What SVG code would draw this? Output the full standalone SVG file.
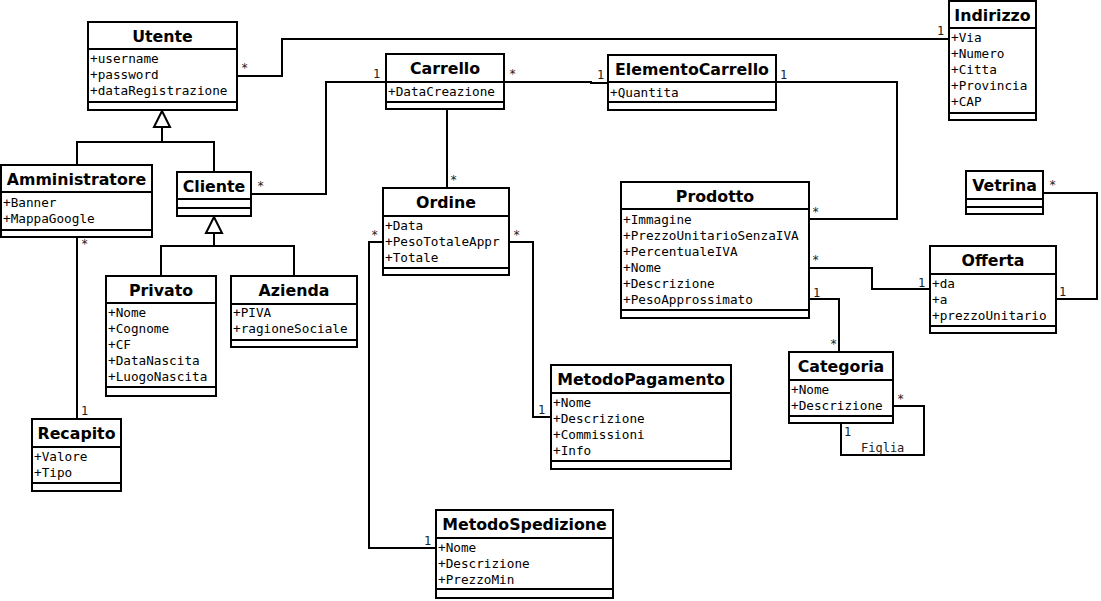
<svg xmlns="http://www.w3.org/2000/svg" width="1101" height="601" viewBox="0 0 1101 601">
<style>
.box{fill:#fff;stroke:#000;stroke-width:2}
.sep{stroke:#000;stroke-width:2}
.t{font-family:"DejaVu Sans",sans-serif;font-weight:bold;font-size:15.8px;text-anchor:middle;fill:#000}
.a{font-family:"DejaVu Sans Mono",monospace;font-size:12.7px;fill:#000}
.m{font-family:"DejaVu Sans Mono",monospace;font-size:12px;fill:#222}
.c{fill:none;stroke:#000;stroke-width:2}
.g{fill:#fff;stroke:#000;stroke-width:2}
</style>
<rect width="1101" height="601" fill="#fff"/>
<g id="connectors">
<polyline class="c" points="237,76 282,76 282,39 949,39"/>
<polyline class="c" points="251,194 326,194 326,82 386,82"/>
<polyline class="c" points="504,82 591,82 591,83 608,83"/>
<line class="c" x1="447" y1="109" x2="447" y2="188"/>
<polyline class="c" points="383,242 369,242 369,548 436,548"/>
<polyline class="c" points="509,242 533,242 533,417 551,417"/>
<polyline class="c" points="776,82 897,82 897,219 809,219"/>
<polyline class="c" points="809,268 872,268 872,289 930,289"/>
<polyline class="c" points="809,299 839,299 839,352"/>
<polyline class="c" points="1043,193 1097,193 1097,299 1056,299"/>
<polyline class="c" points="893,406 924,406 924,455 841,455 841,423"/>
<line class="c" x1="77" y1="237" x2="77" y2="419"/>
<polyline class="c" points="162,127 162,142"/>
<polyline class="c" points="77,165 77,142 214,142 214,172"/>
<polygon class="g" points="162,111 154,127 170,127"/>
<polyline class="c" points="214,233 214,246"/>
<polyline class="c" points="161,276 161,246 294,246 294,276"/>
<polygon class="g" points="214,217 206,233 222,233"/>
<text class="m" x="241" y="72">*</text>
<text class="m" x="937" y="35">1</text>
<text class="m" x="257" y="190">*</text>
<text class="m" x="373" y="78">1</text>
<text class="m" x="509" y="78">*</text>
<text class="m" x="597" y="79">1</text>
<text class="m" x="448" y="106">1</text>
<text class="m" x="450" y="184">*</text>
<text class="m" x="371" y="239">*</text>
<text class="m" x="424" y="545">1</text>
<text class="m" x="513" y="239">*</text>
<text class="m" x="538" y="414">1</text>
<text class="m" x="780" y="79">1</text>
<text class="m" x="812" y="216">*</text>
<text class="m" x="812" y="264">*</text>
<text class="m" x="918" y="287">1</text>
<text class="m" x="813" y="297">1</text>
<text class="m" x="830" y="348">*</text>
<text class="m" x="1049" y="189">*</text>
<text class="m" x="1059" y="296">1</text>
<text class="m" x="897" y="403">*</text>
<text class="m" x="844" y="436">1</text>
<text class="m" x="861" y="452">Figlia</text>
<text class="m" x="81" y="248">*</text>
<text class="m" x="81" y="415">1</text>
</g>
<g id="Utente">
<rect class="box" x="88" y="22" width="149" height="88"/>
<line class="sep" x1="88" y1="49" x2="237" y2="49"/><line class="sep" x1="88" y1="102" x2="237" y2="102"/>
<text class="t" x="162.5" y="42">Utente</text>
<text class="a" x="90" y="63">+username</text><text class="a" x="90" y="79">+password</text><text class="a" x="90" y="95">+dataRegistrazione</text>
</g>
<g id="Indirizzo">
<rect class="box" x="949" y="1" width="87" height="119"/>
<line class="sep" x1="949" y1="28" x2="1036" y2="28"/><line class="sep" x1="949" y1="113" x2="1036" y2="113"/>
<text class="t" x="992.5" y="21">Indirizzo</text>
<text class="a" x="951" y="42">+Via</text><text class="a" x="951" y="58">+Numero</text><text class="a" x="951" y="74">+Citta</text><text class="a" x="951" y="90">+Provincia</text><text class="a" x="951" y="106">+CAP</text>
</g>
<g id="Carrello">
<rect class="box" x="386" y="54" width="118" height="55"/>
<line class="sep" x1="386" y1="82" x2="504" y2="82"/><line class="sep" x1="386" y1="102" x2="504" y2="102"/>
<text class="t" x="445" y="74">Carrello</text>
<text class="a" x="388" y="96">+DataCreazione</text>
</g>
<g id="ElementoCarrello">
<rect class="box" x="608" y="55" width="168" height="55"/>
<line class="sep" x1="608" y1="82" x2="776" y2="82"/><line class="sep" x1="608" y1="102" x2="776" y2="102"/>
<text class="t" x="692" y="75">ElementoCarrello</text>
<text class="a" x="610" y="97">+Quantita</text>
</g>
<g id="Amministratore">
<rect class="box" x="1" y="165" width="151" height="72"/>
<line class="sep" x1="1" y1="192" x2="152" y2="192"/><line class="sep" x1="1" y1="230" x2="152" y2="230"/>
<text class="t" x="76.5" y="185">Amministratore</text>
<text class="a" x="3" y="207">+Banner</text><text class="a" x="3" y="223">+MappaGoogle</text>
</g>
<g id="Cliente">
<rect class="box" x="177" y="172" width="74" height="44"/>
<line class="sep" x1="177" y1="199" x2="251" y2="199"/><line class="sep" x1="177" y1="208" x2="251" y2="208"/>
<text class="t" x="214" y="192">Cliente</text>
</g>
<g id="Ordine">
<rect class="box" x="383" y="188" width="126" height="87"/>
<line class="sep" x1="383" y1="216" x2="509" y2="216"/><line class="sep" x1="383" y1="268" x2="509" y2="268"/>
<text class="t" x="446" y="208">Ordine</text>
<text class="a" x="385" y="230">+Data</text><text class="a" x="385" y="246">+PesoTotaleAppr</text><text class="a" x="385" y="262">+Totale</text>
</g>
<g id="Prodotto">
<rect class="box" x="621" y="182" width="188" height="136"/>
<line class="sep" x1="621" y1="209" x2="809" y2="209"/><line class="sep" x1="621" y1="310" x2="809" y2="310"/>
<text class="t" x="715" y="202">Prodotto</text>
<text class="a" x="623" y="224">+Immagine</text><text class="a" x="623" y="240">+PrezzoUnitarioSenzaIVA</text><text class="a" x="623" y="256">+PercentualeIVA</text><text class="a" x="623" y="272">+Nome</text><text class="a" x="623" y="288">+Descrizione</text><text class="a" x="623" y="304">+PesoApprossimato</text>
</g>
<g id="Vetrina">
<rect class="box" x="966" y="171" width="77" height="43"/>
<line class="sep" x1="966" y1="199" x2="1043" y2="199"/><line class="sep" x1="966" y1="207" x2="1043" y2="207"/>
<text class="t" x="1004.5" y="191">Vetrina</text>
</g>
<g id="Offerta">
<rect class="box" x="930" y="246" width="126" height="87"/>
<line class="sep" x1="930" y1="274" x2="1056" y2="274"/><line class="sep" x1="930" y1="326" x2="1056" y2="326"/>
<text class="t" x="993" y="266">Offerta</text>
<text class="a" x="932" y="288">+da</text><text class="a" x="932" y="304">+a</text><text class="a" x="932" y="320">+prezzoUnitario</text>
</g>
<g id="Privato">
<rect class="box" x="106" y="276" width="110" height="120"/>
<line class="sep" x1="106" y1="303" x2="216" y2="303"/><line class="sep" x1="106" y1="387" x2="216" y2="387"/>
<text class="t" x="161" y="296">Privato</text>
<text class="a" x="108" y="317">+Nome</text><text class="a" x="108" y="333">+Cognome</text><text class="a" x="108" y="349">+CF</text><text class="a" x="108" y="365">+DataNascita</text><text class="a" x="108" y="381">+LuogoNascita</text>
</g>
<g id="Azienda">
<rect class="box" x="231" y="276" width="126" height="71"/>
<line class="sep" x1="231" y1="304" x2="357" y2="304"/><line class="sep" x1="231" y1="340" x2="357" y2="340"/>
<text class="t" x="294" y="296">Azienda</text>
<text class="a" x="233" y="317">+PIVA</text><text class="a" x="233" y="333">+ragioneSociale</text>
</g>
<g id="Categoria">
<rect class="box" x="789" y="352" width="104" height="71"/>
<line class="sep" x1="789" y1="380" x2="893" y2="380"/><line class="sep" x1="789" y1="416" x2="893" y2="416"/>
<text class="t" x="841" y="372">Categoria</text>
<text class="a" x="791" y="394">+Nome</text><text class="a" x="791" y="410">+Descrizione</text>
</g>
<g id="MetodoPagamento">
<rect class="box" x="551" y="365" width="180" height="104"/>
<line class="sep" x1="551" y1="393" x2="731" y2="393"/><line class="sep" x1="551" y1="461" x2="731" y2="461"/>
<text class="t" x="641" y="385">MetodoPagamento</text>
<text class="a" x="553" y="407">+Nome</text><text class="a" x="553" y="423">+Descrizione</text><text class="a" x="553" y="439">+Commissioni</text><text class="a" x="553" y="455">+Info</text>
</g>
<g id="Recapito">
<rect class="box" x="32" y="419" width="89" height="72"/>
<line class="sep" x1="32" y1="447" x2="121" y2="447"/><line class="sep" x1="32" y1="483" x2="121" y2="483"/>
<text class="t" x="76.5" y="439">Recapito</text>
<text class="a" x="34" y="461">+Valore</text><text class="a" x="34" y="477">+Tipo</text>
</g>
<g id="MetodoSpedizione">
<rect class="box" x="436" y="510" width="177" height="88"/>
<line class="sep" x1="436" y1="538" x2="613" y2="538"/><line class="sep" x1="436" y1="589" x2="613" y2="589"/>
<text class="t" x="524.5" y="530">MetodoSpedizione</text>
<text class="a" x="438" y="552">+Nome</text><text class="a" x="438" y="568">+Descrizione</text><text class="a" x="438" y="584">+PrezzoMin</text>
</g>
</svg>
